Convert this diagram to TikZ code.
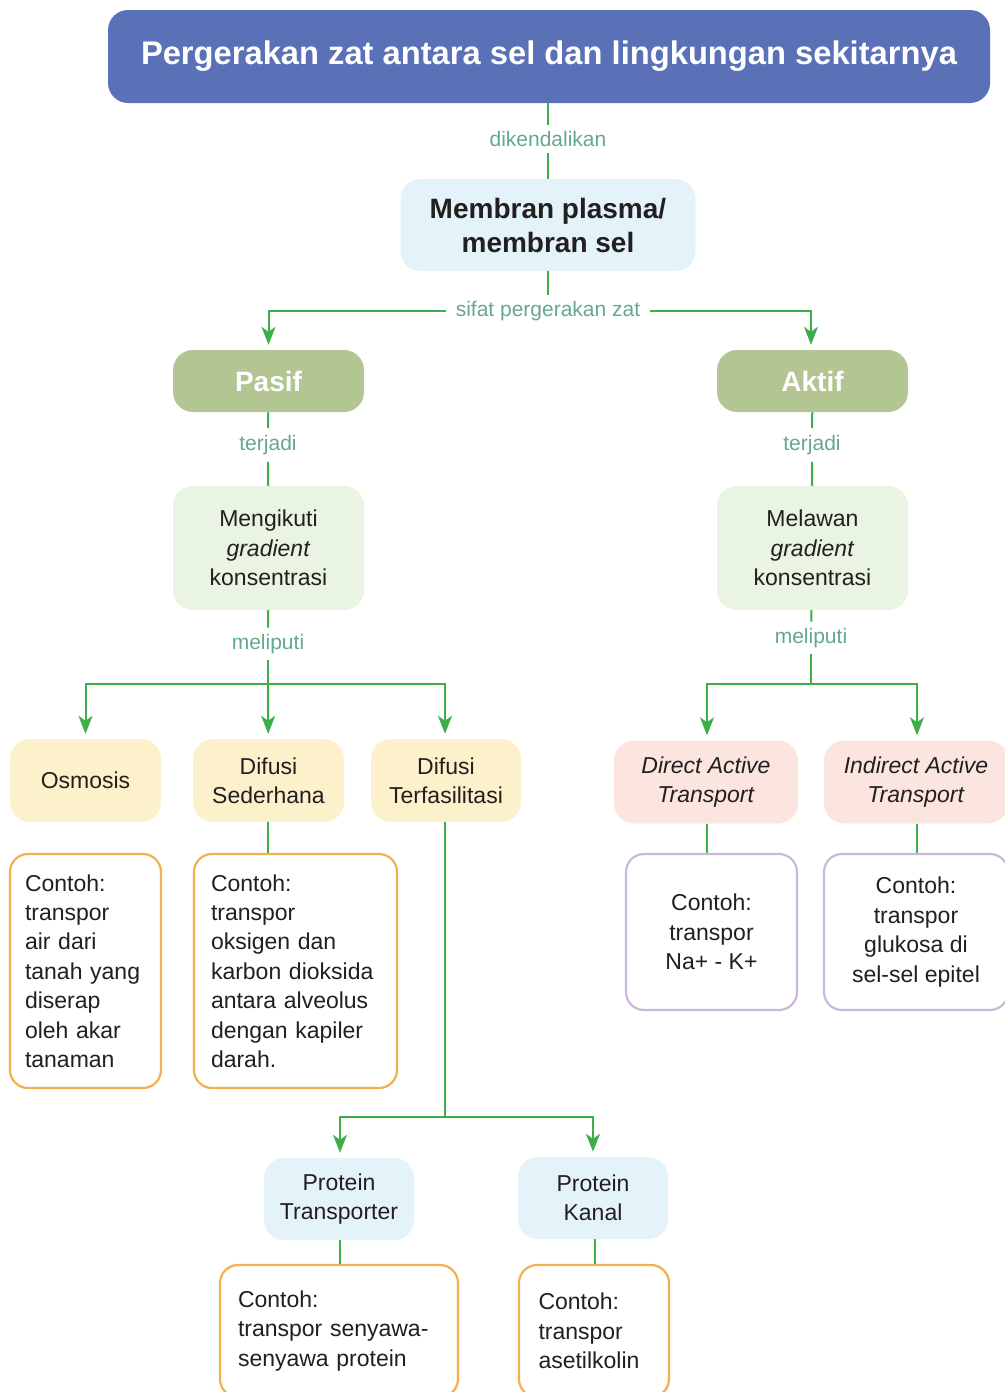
\documentclass[tikz,border=0pt]{standalone}
\usepackage{fontspec}
\setmainfont{Liberation Sans}
\usetikzlibrary{arrows.meta}

\definecolor{judul}{HTML}{5B71B7}
\definecolor{biru}{HTML}{E4F3FA}
\definecolor{zaitun}{HTML}{B3C592}
\definecolor{hijaumuda}{HTML}{EAF4E2}
\definecolor{kuning}{HTML}{FDF1CB}
\definecolor{merahmuda}{HTML}{FCE5DF}
\definecolor{oranye}{HTML}{F6AF4F}
\definecolor{ungu}{HTML}{CBB8DC}
\definecolor{garishijau}{HTML}{3DAE49}
\definecolor{label}{HTML}{63A98A}
\definecolor{teks}{HTML}{231F20}

\begin{document}
\begin{tikzpicture}[x=1pt,y=-1pt,
    box/.style={rounded corners=20pt, align=center, text=teks, inner sep=0pt,
      font=\fontsize{23}{29.4}\selectfont},
    tebal/.style={font=\fontsize{28}{34}\selectfont\bfseries},
    contoh/.style={box, draw, line width=2.2pt, fill=white, rounded corners=18pt},
    lbl/.style={text=label, inner xsep=10pt, inner ysep=6.5pt, font=\fontsize{21}{25}\selectfont},
    garis/.style={draw=garishijau, line width=2pt},
    panah/.style={garis, -{Stealth[length=18pt,width=14pt,inset=5pt]}, shorten >=5pt}]
  \useasboundingbox (0,0) rectangle (1004,1392);

  % judul dan membran
  \node[box, fill=judul, text=white, minimum width=882pt, minimum height=93pt,
    font=\fontsize{32.7}{38}\selectfont\bfseries] (judul) at (549,56.5)
    {Pergerakan zat antara sel dan lingkungan sekitarnya};
  \node[box, tebal, fill=biru, minimum width=295pt, minimum height=92pt] (membran) at (548,225)
    {Membran plasma/\\membran sel};

  % pasif dan aktif
  \node[box, tebal, fill=zaitun, text=white, minimum width=191pt, minimum height=62pt] (pasif) at (268.5,381) {Pasif};
  \node[box, tebal, fill=zaitun, text=white, minimum width=191pt, minimum height=62pt] (aktif) at (812.5,381) {Aktif};
  \node[box, fill=hijaumuda, minimum width=191pt, minimum height=124pt] (mengikuti) at (268.5,548)
    {Mengikuti\\\textit{gradient}\\konsentrasi};
  \node[box, fill=hijaumuda, minimum width=191pt, minimum height=124pt] (melawan) at (812.5,548)
    {Melawan\\\textit{gradient}\\konsentrasi};

  % jenis transpor
  \node[box, fill=kuning, minimum width=151pt, minimum height=83pt] (osmosis) at (85.5,780.5) {Osmosis};
  \node[box, fill=kuning, minimum width=151pt, minimum height=83pt] (sederhana) at (268.5,780.5) {Difusi\\Sederhana};
  \node[box, fill=kuning, minimum width=150pt, minimum height=83pt] (terfasilitasi) at (446,780.5) {Difusi\\Terfasilitasi};
  \node[box, fill=merahmuda, minimum width=184pt, minimum height=83pt] (direct) at (706,782)
    {\textit{Direct Active}\\\textit{Transport}};
  \node[box, fill=merahmuda, minimum width=184pt, minimum height=83pt] (indirect) at (916,782)
    {\textit{Indirect Active}\\\textit{Transport}};
  \node[box, fill=biru, minimum width=150pt, minimum height=82pt] (transporter) at (339,1199) {Protein\\Transporter};
  \node[box, fill=biru, minimum width=150pt, minimum height=82pt] (kanal) at (593,1198) {Protein\\Kanal};

  % contoh
  \node[contoh, draw=oranye, minimum width=151pt, minimum height=234pt, text width=121pt, align=left]
    (contohOsmosis) at (85.5,971)
    {Contoh:\\transpor\\air dari\\tanah yang\\diserap\\oleh akar\\tanaman};
  \node[contoh, draw=oranye, minimum width=203pt, minimum height=234pt, text width=169pt, align=left]
    (contohSederhana) at (295.5,971)
    {Contoh:\\transpor\\oksigen dan\\karbon dioksida\\antara alveolus\\dengan kapiler\\darah.};
  \node[contoh, draw=ungu, minimum width=171pt, minimum height=156pt] (contohDirect) at (711.5,932)
    {Contoh:\\transpor\\Na+ - K+};
  \node[contoh, draw=ungu, minimum width=184pt, minimum height=156pt] (contohIndirect) at (916,932)
    {Contoh:\\transpor\\glukosa di\\sel-sel epitel};
  \node[contoh, draw=oranye, minimum width=238pt, minimum height=132pt, text width=202pt, align=left]
    (contohTransporter) at (339,1331)
    {Contoh:\\transpor senyawa-\\senyawa protein};
  \node[contoh, draw=oranye, minimum width=150pt, minimum height=132pt, text width=111pt, align=left]
    (contohKanal) at (594,1331)
    {Contoh:\\transpor\\asetilkolin};

  % label penghubung
  \node[lbl] (dikendalikan) at (548,139) {dikendalikan};
  \node[lbl] (sifat) at (548,311) {sifat pergerakan zat};
  \node[lbl, inner ysep=7pt] (terjadiL) at (268,445) {terjadi};
  \node[lbl, inner ysep=7pt] (terjadiR) at (812,445) {terjadi};
  \node[lbl] (meliputiL) at (268,644) {meliputi};
  \node[lbl] (meliputiR) at (811,638) {meliputi};
  \coordinate (cabangL) at (268,684);
  \coordinate (cabangR) at (812,684);
  \coordinate (cabangT) at (445,1117);

  \begin{scope}[every path/.style={garis}]
    \draw (judul.south -| dikendalikan) -- (dikendalikan);
    \draw (dikendalikan) -- (membran);
    \draw (membran) -- (sifat);
    \draw[panah] (sifat) -| (pasif);
    \draw[panah] (sifat) -| (aktif.north -| meliputiR);
    \draw (pasif) -- (terjadiL);
    \draw (terjadiL) -- (mengikuti);
    \draw (mengikuti) -- (meliputiL);
    \draw (meliputiL) -- (cabangL);
    \draw (aktif) -- (terjadiR);
    \draw (terjadiR) -- (melawan);
    \draw (melawan) -- (meliputiR);
    \draw (meliputiR) -- (meliputiR |- cabangR);
    \draw[panah] (cabangR) -| (direct.north -| 707,0);
    \draw[panah] (cabangR) -| (indirect.north -| 917,0);
    \draw[panah] (cabangL) -| (osmosis);
    \draw[panah] (cabangL) -- (sederhana);
    \draw[panah] (cabangL) -| (terfasilitasi.north -| cabangT);
    \draw (sederhana.south -| cabangL) -- (contohSederhana.north -| cabangL);
    \draw (direct.south -| 707,0) -- (contohDirect.north -| 707,0);
    \draw (indirect.south -| 917,0) -- (contohIndirect.north -| 917,0);
    \draw (terfasilitasi.south -| cabangT) -- (cabangT);
    \draw[panah] (cabangT) -| (transporter.north -| 340,0);
    \draw[panah] (cabangT) -| (kanal);
    \draw (transporter.south -| 340,0) -- (contohTransporter.north -| 340,0);
    \draw (kanal.south -| 595,0) -- (contohKanal.north -| 595,0);
  \end{scope}
\end{tikzpicture}
\end{document}
